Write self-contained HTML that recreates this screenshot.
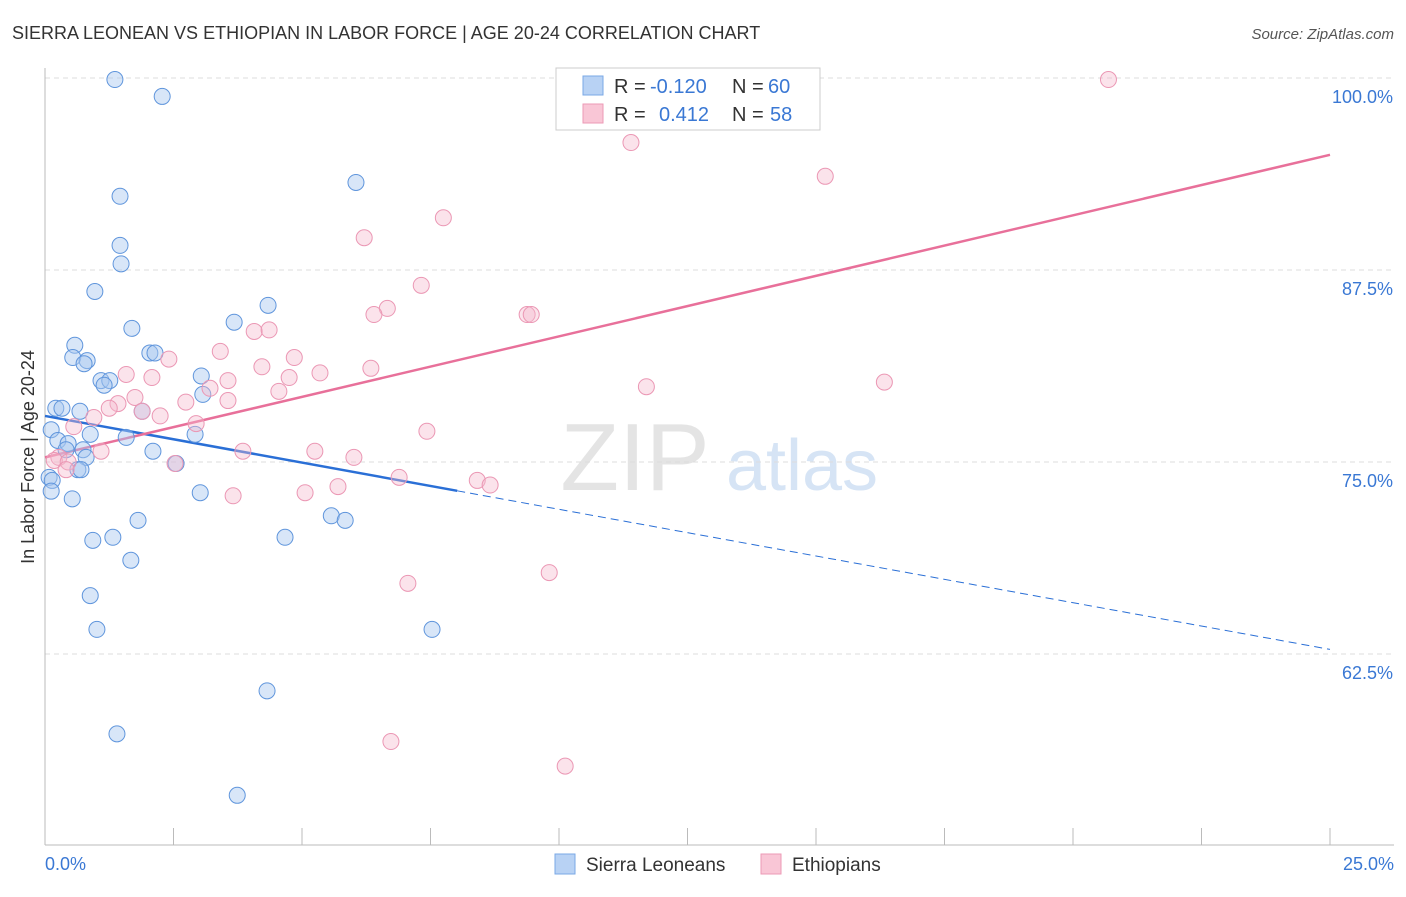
<!DOCTYPE html>
<html><head><meta charset="utf-8"><style>
body{margin:0;background:#fff;font-family:"Liberation Sans",sans-serif}
svg text{font-family:"Liberation Sans",sans-serif}
</style></head><body>
<svg id="chart" width="1406" height="892" xmlns="http://www.w3.org/2000/svg">
<text x="12" y="39" font-size="18" fill="#333">SIERRA LEONEAN VS ETHIOPIAN IN LABOR FORCE | AGE 20-24 CORRELATION CHART</text>
<text x="1394" y="39" font-size="15" fill="#555" font-style="italic" text-anchor="end">Source: ZipAtlas.com</text>
<text x="0" y="0" font-size="18" fill="#333" text-anchor="middle" transform="translate(34,457) rotate(-90)">In Labor Force | Age 20-24</text>
<g><text x="635" y="490" font-size="96" font-family="Liberation Serif" fill="#e4e4e4" text-anchor="middle">ZIP</text><text x="802" y="490" font-size="72" fill="#d6e4f5" text-anchor="middle">atlas</text></g>
<g id="grid"></g><g id="axes"></g><g id="lines"></g><g id="pts"></g>
<g>
<rect x="556" y="68" width="264" height="62" fill="#fff" stroke="#ccc"/>
<rect x="583" y="76" width="20" height="19" fill="#b8d2f4" stroke="#7aa8e6"/>
<rect x="583" y="104" width="20" height="19" fill="#f9c6d6" stroke="#ec9ab6"/>
<text x="614" y="93" font-size="20" fill="#333">R = </text><text x="650" y="93" font-size="20" fill="#3a78d4">-0.120</text>
<text x="732" y="93" font-size="20" fill="#333">N = </text><text x="768" y="93" font-size="20" fill="#3a78d4">60</text>
<text x="614" y="121" font-size="20" fill="#333">R = </text><text x="659" y="121" font-size="20" fill="#3a78d4">0.412</text>
<text x="732" y="121" font-size="20" fill="#333">N = </text><text x="770" y="121" font-size="20" fill="#3a78d4">58</text>
</g>
<g>
<rect x="555" y="854" width="20" height="20" fill="#b8d2f4" stroke="#7aa8e6"/>
<text x="586" y="871" font-size="19" fill="#333">Sierra Leoneans</text>
<rect x="761" y="854" width="20" height="20" fill="#f9c6d6" stroke="#ec9ab6"/>
<text x="792" y="871" font-size="19" fill="#333">Ethiopians</text>
</g>
</svg>
<script>
const yTicks=[100,87.5,75,62.5];
const yTickLabels=["100.0%","87.5%","75.0%","62.5%"];
const xTickLabels=["0.0%","25.0%"];
const blueX=[1.36,2.28,1.46,6.05,1.46,1.48,0.97,4.34,3.68,1.69,0.58,2.04,2.14,0.54,0.82,0.76,1.09,1.26,1.15,3.04,3.07,0.21,0.33,0.68,1.89,0.12,0.88,1.58,0.25,0.45,0.41,0.74,2.10,0.80,2.92,2.55,0.64,0.70,0.08,0.14,0.12,0.53,3.02,1.81,5.57,5.84,0.93,1.32,4.67,1.67,0.88,1.01,7.53,4.32,1.40,3.74];
const blueY=[99.9,98.8,92.3,93.2,89.1,87.9,86.1,85.2,84.1,83.7,82.6,82.1,82.1,81.8,81.6,81.4,80.3,80.3,80.0,80.6,79.4,78.5,78.5,78.3,78.3,77.1,76.8,76.6,76.4,76.2,75.8,75.8,75.7,75.3,76.8,74.9,74.5,74.5,74.0,73.8,73.1,72.6,73.0,71.2,71.5,71.2,69.9,70.1,70.1,68.6,66.3,64.1,64.1,60.1,57.3,53.3];
const pinkX=[20.69,14.69,11.40,15.18,7.75,6.21,7.32,6.66,6.40,9.38,9.46,4.07,4.36,3.41,2.41,4.85,4.22,6.34,5.35,1.58,2.08,4.75,3.56,16.33,11.70,3.21,4.55,1.75,2.74,1.42,3.56,1.25,1.89,2.24,0.95,2.94,0.56,7.43,3.85,5.25,6.01,1.09,0.27,0.18,0.45,2.53,0.41,6.89,8.41,8.66,5.70,5.06,3.66,9.81,7.06,6.73,10.12];
const pinkY=[99.9,99.9,95.8,93.6,90.9,89.6,86.5,85.0,84.6,84.6,84.6,83.5,83.6,82.2,81.7,81.8,81.2,81.1,80.8,80.7,80.5,80.5,80.3,80.2,79.9,79.8,79.6,79.2,78.9,78.8,79.0,78.5,78.3,78.0,77.9,77.5,77.3,77.0,75.7,75.7,75.3,75.7,75.3,75.1,75.0,74.9,74.5,74.0,73.8,73.5,73.4,73.0,72.8,67.8,67.1,56.8,55.2];
const blueTrend=[78.0,62.8]; // value at x=0 and x=25
const blueSolidEnd=8.02;
const pinkTrend=[75.3,95.0];
const X=v=>45+v/25*1285, Y=v=>78+(100-v)/12.5*192;
const NS="http://www.w3.org/2000/svg";
function mk(tag,attrs,parent){const e=document.createElementNS(NS,tag);for(const k in attrs)e.setAttribute(k,attrs[k]);document.getElementById(parent).appendChild(e);return e;}
yTicks.forEach((t,i)=>{
 const l=mk('line',{x1:45,x2:1394,y1:Y(t),y2:Y(t),stroke:'#ddd','stroke-dasharray':'5,4'},'grid');
 
 
 const tx=mk('text',{x:1393,y:Y(t)+25,'font-size':18,fill:'#3a78d4','text-anchor':'end'},'grid');tx.textContent=yTickLabels[i];
 
 
});
mk('line',{x1:45,x2:45,y1:68,y2:845,stroke:'#bbb'},'axes');
mk('line',{x1:45,x2:1394,y1:845,y2:845,stroke:'#bbb'},'axes');
for(let i=0;i<=10;i++){const x=X(i*2.5);const t=mk('line',{x1:x,x2:x,y1:828,y2:845,stroke:'#bbb'},'axes');
 
 }
[[0,'start',45],[25,'end',1394]].forEach((d,i)=>{const t=mk('text',{x:d[2],y:870,'font-size':18,fill:'#3a78d4','text-anchor':d[1]},'axes');t.textContent=xTickLabels[i];
 
 });
const bv=x=>blueTrend[0]+(blueTrend[1]-blueTrend[0])*x/25;
let l1=mk('line',{x1:X(0),y1:Y(bv(0)),x2:X(blueSolidEnd),y2:Y(bv(blueSolidEnd)),stroke:'#2a6fd6','stroke-width':2.5},'lines');


let l2=mk('line',{x1:X(blueSolidEnd),y1:Y(bv(blueSolidEnd)),x2:X(25),y2:Y(bv(25)),stroke:'#2a6fd6','stroke-width':1,'stroke-dasharray':'8,5'},'lines');


let l3=mk('line',{x1:X(0),y1:Y(pinkTrend[0]),x2:X(25),y2:Y(pinkTrend[1]),stroke:'#e8709a','stroke-width':2.5},'lines');


blueX.forEach((v,i)=>{const c=mk('circle',{cx:X(v),cy:Y(blueY[i]),r:8,fill:'rgba(168,200,240,0.45)',stroke:'#5f95dc','stroke-width':1},'pts');
 
 });
pinkX.forEach((v,i)=>{const c=mk('circle',{cx:X(v),cy:Y(pinkY[i]),r:8,fill:'rgba(246,184,206,0.4)',stroke:'#eb97b4','stroke-width':1},'pts');
 
 });
</script>
</body></html>
